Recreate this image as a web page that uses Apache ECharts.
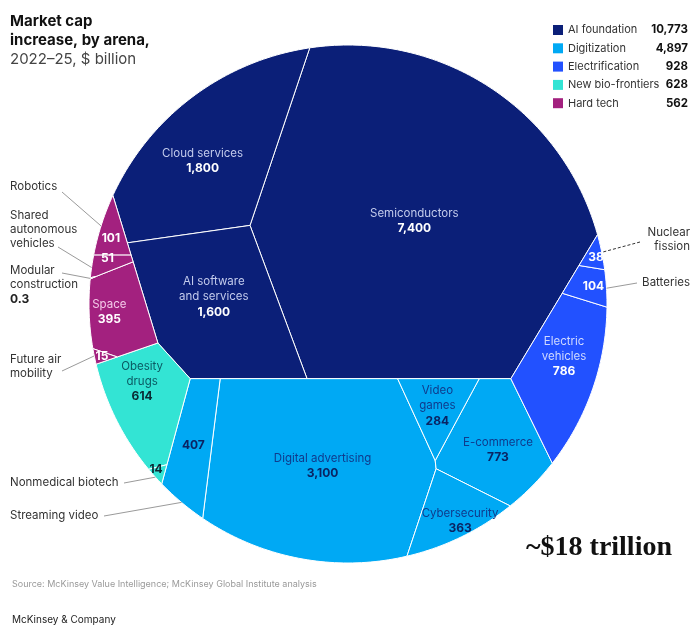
<!DOCTYPE html>
<html>
<head>
<meta charset="utf-8">
<script src="https://cdn.jsdelivr.net/npm/echarts@6/dist/echarts.min.js"></script>
<style>
  html, body { margin: 0; padding: 0; background: #fff; }
  #main { width: 700px; height: 636px; }
</style>
</head>
<body>
<div id="main"></div>
<script>
// data
var arenas = ['AI foundation', 'Digitization', 'Electrification', 'New bio-frontiers', 'Hard tech'];
var arenaTotals = [10773, 4897, 928, 628, 562];

var leafNames = ['Semiconductors', 'Cloud services', 'AI software and services',
  'Digital advertising', 'E-commerce', 'Streaming video', 'Cybersecurity', 'Video games',
  'Electric vehicles', 'Batteries', 'Nuclear fission',
  'Obesity drugs', 'Nonmedical biotech',
  'Space', 'Robotics', 'Shared autonomous vehicles', 'Future air mobility', 'Modular construction'];
var leafValues = [7400, 1800, 1600, 3100, 773, 407, 363, 284, 786, 104, 38, 614, 14, 395, 101, 51, 15, 0.3];
var leafArena = [0, 0, 0, 1, 1, 1, 1, 1, 2, 2, 2, 3, 3, 4, 4, 4, 4, 4];

// layout / style
var FONT = 'Inter';
var arenaColors = ['#0b1f78', '#00a9f4', '#2251ff', '#33e4d4', '#a3217f'];
var nameColors = ['#c3cbec', '#0f3b8c', '#cfd9ff', '#0b5a63', '#f3c9e8'];
var valueColors = ['#ffffff', '#0a2463', '#ffffff', '#0a2a33', '#ffffff'];

// seed points (unit circle, y up) that steer the power-diagram layout
var arenaSeeds = [[0.05, 0.3], [0.05, -0.6], [0.874, -0.196], [-0.715, -0.393], [-0.858, 0.023]];
var leafSeeds = {
  'Semiconductors': [0.278, 0.324], 'Cloud services': [-0.64, 0.633], 'AI software and services': [-0.552, 0.015],
  'Streaming video': [-0.61, -0.564], 'Digital advertising': [-0.147, -0.622], 'Video games': [0.317, -0.409],
  'E-commerce': [0.568, -0.544], 'Cybersecurity': [0.432, -0.815],
  'Nuclear fission': [0.934, 0.208], 'Batteries': [0.915, 0.093], 'Electric vehicles': [0.819, -0.216],
  'Obesity drugs': [-0.822, -0.371], 'Nonmedical biotech': [-0.745, -0.672],
  'Robotics': [-0.919, 0.31], 'Shared autonomous vehicles': [-0.919, 0.2], 'Modular construction': [-0.908, 0.151],
  'Space': [-0.84, 0.0], 'Future air mobility': [-0.898, -0.17]
};

var insideText = {
  'Cloud services': 'Cloud services',
  'Semiconductors': 'Semiconductors',
  'AI software and services': 'AI software\nand services',
  'Space': 'Space',
  'Obesity drugs': 'Obesity\ndrugs',
  'Digital advertising': 'Digital advertising',
  'Video games': 'Video\ngames',
  'E-commerce': 'E-commerce',
  'Cybersecurity': 'Cybersecurity',
  'Electric vehicles': 'Electric\nvehicles'
};
var hideValue = { 'Modular construction': true };
// pixel nudges of inside labels away from the cell centroid
var labelShift = {
  'Cloud services': [-8, 6], 'AI software and services': [-2, -9], 'Space': [-10, -1], 'Robotics': [-1, 4],
  'Shared autonomous vehicles': [-1, -5],
  'Obesity drugs': [-4, -19], 'Nonmedical biotech': [-3, -3], 'Digital advertising': [4, -2],
  'E-commerce': [3, 6], 'Cybersecurity': [8, 8], 'Electric vehicles': [2, -13], 'Batteries': [5, 1], 'Nuclear fission': [2, 1]
};

var outsideText = {
  'Robotics': { text: 'Robotics', x: 10, y: 187, from: [62, 192] },
  'Shared autonomous vehicles': { text: 'Shared\nautonomous\nvehicles', x: 10, y: 230, from: [58, 247] },
  'Modular construction': { text: 'Modular\nconstruction', value: true, x: 10, y: 285, from: [62, 273] },
  'Future air mobility': { text: 'Future air\nmobility', x: 10, y: 367, from: [62, 371] },
  'Nonmedical biotech': { text: 'Nonmedical biotech', x: 10, y: 483, from: [124, 483] },
  'Streaming video': { text: 'Streaming video', x: 10, y: 516, from: [104, 516] },
  'Nuclear fission': { text: 'Nuclear\nfission', x: 690, y: 240, from: [640, 242], right: true, dash: true },
  'Batteries': { text: 'Batteries', x: 690, y: 283, from: [637, 283], right: true }
};

function fmt(v) { return String(v).replace(/\B(?=(\d{3})+(?!\d))/g, ','); }

// ---- power diagram (weighted voronoi) inside a convex polygon ----
function clip(poly, a, b, c) {
  var out = [];
  for (var i = 0; i < poly.length; i++) {
    var p = poly[i], q = poly[(i + 1) % poly.length];
    var fp = a * p[0] + b * p[1] - c, fq = a * q[0] + b * q[1] - c;
    if (fp <= 0) out.push(p);
    if ((fp < 0 && fq > 0) || (fp > 0 && fq < 0)) {
      var t = fp / (fp - fq);
      out.push([p[0] + t * (q[0] - p[0]), p[1] + t * (q[1] - p[1])]);
    }
  }
  return out;
}
function polyArea(poly) {
  var s = 0;
  for (var i = 0; i < poly.length; i++) {
    var p = poly[i], q = poly[(i + 1) % poly.length];
    s += p[0] * q[1] - q[0] * p[1];
  }
  return Math.abs(s) / 2;
}
function polyCentroid(poly) {
  var s = 0, cx = 0, cy = 0;
  for (var i = 0; i < poly.length; i++) {
    var p = poly[i], q = poly[(i + 1) % poly.length];
    var k = p[0] * q[1] - q[0] * p[1];
    s += k; cx += (p[0] + q[0]) * k; cy += (p[1] + q[1]) * k;
  }
  if (Math.abs(s) < 1e-12) {
    var ax = 0, ay = 0;
    poly.forEach(function (p) { ax += p[0]; ay += p[1]; });
    return [ax / poly.length, ay / poly.length];
  }
  return [cx / (3 * s), cy / (3 * s)];
}
function powerCell(parent, sites, w, i) {
  var poly = parent, si = sites[i];
  for (var j = 0; j < sites.length && poly.length; j++) {
    if (j === i) continue;
    var sj = sites[j];
    poly = clip(poly, 2 * (sj[0] - si[0]), 2 * (sj[1] - si[1]),
      sj[0] * sj[0] + sj[1] * sj[1] - si[0] * si[0] - si[1] * si[1] - w[j] + w[i]);
  }
  return poly;
}
function powerLayout(parent, sites, values) {
  var n = sites.length;
  if (n === 1) return [parent];
  var total = polyArea(parent);
  var sum = values.reduce(function (a, b) { return a + b; }, 0);
  var want = values.map(function (v) { return v / sum * total; });
  var w = sites.map(function () { return 0; });
  var eps = total * 1e-5;
  for (var it = 0; it < 500; it++) {
    var nw = w.slice();
    for (var i = 0; i < n; i++) {
      var a0 = polyArea(powerCell(parent, sites, w, i));
      var w2 = w.slice(); w2[i] += eps;
      var d = (polyArea(powerCell(parent, sites, w2, i)) - a0) / eps;
      if (a0 <= 0 || d <= 0) nw[i] = w[i] + total * 0.01;
      else nw[i] = w[i] + 0.5 * (want[i] - a0) / d;
    }
    w = nw;
  }
  return sites.map(function (s, i) { return powerCell(parent, sites, w, i); });
}
// point on the outer rim of a cell, for leader lines
function rimPoint(poly) {
  var maxR = 0;
  poly.forEach(function (p) { maxR = Math.max(maxR, Math.sqrt(p[0] * p[0] + p[1] * p[1])); });
  var sx = 0, sy = 0;
  poly.forEach(function (p) {
    if (Math.sqrt(p[0] * p[0] + p[1] * p[1]) > maxR - 0.002) { sx += p[0]; sy += p[1]; }
  });
  var r = Math.sqrt(sx * sx + sy * sy);
  return [sx / r * maxR, sy / r * maxR];
}

var circle = [];
for (var k = 0; k < 360; k++) {
  var ang = k * Math.PI / 180;
  circle.push([Math.cos(ang), Math.sin(ang)]);
}
var arenaCells = powerLayout(circle, arenaSeeds, arenaTotals);
var leafCells = [];
var arenaLeaves = arenas.map(function (name, a) {
  var idxs = [], sites = [], vals = [];
  leafNames.forEach(function (n, i) {
    if (leafArena[i] === a) { idxs.push(i); sites.push(leafSeeds[n]); vals.push(leafValues[i]); }
  });
  var cells = powerLayout(arenaCells[a], sites, vals);
  idxs.forEach(function (i, j) { leafCells[i] = cells[j]; });
  return idxs;
});

function makeRender(a, idxs) {
  return function (params, api) {
    var li = idxs[params.dataIndex];
    var name = leafNames[li];
    var poly = leafCells[li];
    var pts = poly.map(function (p) { return api.coord(p); });
    var children = [{
      type: 'polygon',
      shape: { points: pts },
      style: { fill: arenaColors[a], stroke: '#ffffff', lineWidth: 1 }
    }];
    var c = api.coord(polyCentroid(poly));
    var sh = labelShift[name] || [0, 0];
    var rich = {
      n: { fontSize: 11.5, fontFamily: FONT, fill: nameColors[a], color: nameColors[a], lineHeight: 15 },
      v: { fontSize: 12, fontFamily: FONT, fontWeight: 'bold', fill: valueColors[a], color: valueColors[a], lineHeight: 15 }
    };
    var txt = [];
    if (insideText[name]) {
      insideText[name].split('\n').forEach(function (s) { txt.push('{n|' + s + '}'); });
    }
    if (!hideValue[name]) txt.push('{v|' + fmt(leafValues[li]) + '}');
    if (txt.length) {
      children.push({
        type: 'text', x: c[0] + sh[0], y: c[1] + sh[1],
        style: { text: txt.join('\n'), rich: rich, align: 'center', verticalAlign: 'middle', textAlign: 'center', textVerticalAlign: 'middle' }
      });
    }
    var o = outsideText[name];
    if (o) {
      var end = api.coord(rimPoint(poly));
      children.push({
        type: 'line',
        shape: { x1: o.from[0], y1: o.from[1], x2: end[0], y2: end[1] },
        style: { stroke: o.dash ? '#333' : '#9a9a9a', lineWidth: 1, lineDash: o.dash ? [3, 2] : null }
      });
      var lines = o.text.split('\n').map(function (s) { return '{n|' + s + '}'; });
      if (o.value) lines.push('{v|' + fmt(leafValues[li]) + '}');
      children.push({
        type: 'text', x: o.x, y: o.y,
        style: {
          text: lines.join('\n'),
          rich: {
            n: { fontSize: 11.5, fontFamily: FONT, fill: '#333', color: '#333', lineHeight: 14 },
            v: { fontSize: 12, fontFamily: FONT, fontWeight: 'bold', fill: '#222', color: '#222', lineHeight: 14 }
          },
          align: o.right ? 'right' : 'left', textAlign: o.right ? 'right' : 'left',
          verticalAlign: 'middle', textVerticalAlign: 'middle'
        }
      });
    }
    return { type: 'group', children: children };
  };
}

var chart = echarts.init(document.getElementById('main'));
var option = {
  animation: false,
  backgroundColor: '#ffffff',
  title: [{
    text: 'Market cap\nincrease, by arena,',
    subtext: '2022–25, $ billion',
    left: 10, top: 12, itemGap: 0, padding: 0,
    textStyle: { fontFamily: FONT, fontSize: 15, fontWeight: 'bold', color: '#111', lineHeight: 19 },
    subtextStyle: { fontFamily: FONT, fontSize: 15, color: '#444', lineHeight: 19 }
  }, {
    text: 'Source: McKinsey Value Intelligence; McKinsey Global Institute analysis',
    left: 12, top: 580, padding: 0,
    textStyle: { fontFamily: FONT, fontSize: 9, fontWeight: 'normal', color: '#9a9a9a' }
  }, {
    text: 'McKinsey & Company',
    left: 12, top: 615, padding: 0,
    textStyle: { fontFamily: FONT, fontSize: 10, fontWeight: 'normal', color: '#222' }
  }],
  legend: {
    data: arenas,
    orient: 'vertical',
    left: 553, top: 23, padding: 0,
    itemWidth: 10, itemHeight: 10, itemGap: 4.3,
    icon: 'rect',
    selectedMode: false,
    formatter: function (name) {
      return '{a|' + name + '}{b|' + fmt(arenaTotals[arenas.indexOf(name)]) + '}';
    },
    textStyle: {
      fontFamily: FONT, fontSize: 11, color: '#333', lineHeight: 14,
      rich: {
        a: { width: 80, fontFamily: FONT, fontSize: 11, color: '#333', lineHeight: 14 },
        b: { width: 40, align: 'right', fontFamily: FONT, fontSize: 11.5, fontWeight: 'bold', color: '#111', lineHeight: 14 }
      }
    }
  },
  grid: { left: 89, top: 45, width: 518, height: 518 },
  xAxis: { type: 'value', min: -1, max: 1, show: false },
  yAxis: { type: 'value', min: -1, max: 1, show: false },
  graphic: [{
    type: 'text', left: 526, top: 534,
    style: { text: '~$18 trillion', font: 'bold 28px "Liberation Serif"', fill: '#111' }
  }],
  series: arenas.map(function (name, a) {
    return {
      type: 'custom',
      name: name,
      coordinateSystem: 'cartesian2d',
      itemStyle: { color: arenaColors[a] },
      data: arenaLeaves[a].map(function (i) { return [0, 0]; }),
      renderItem: makeRender(a, arenaLeaves[a])
    };
  })
};
chart.setOption(option);
</script>
</body>
</html>
